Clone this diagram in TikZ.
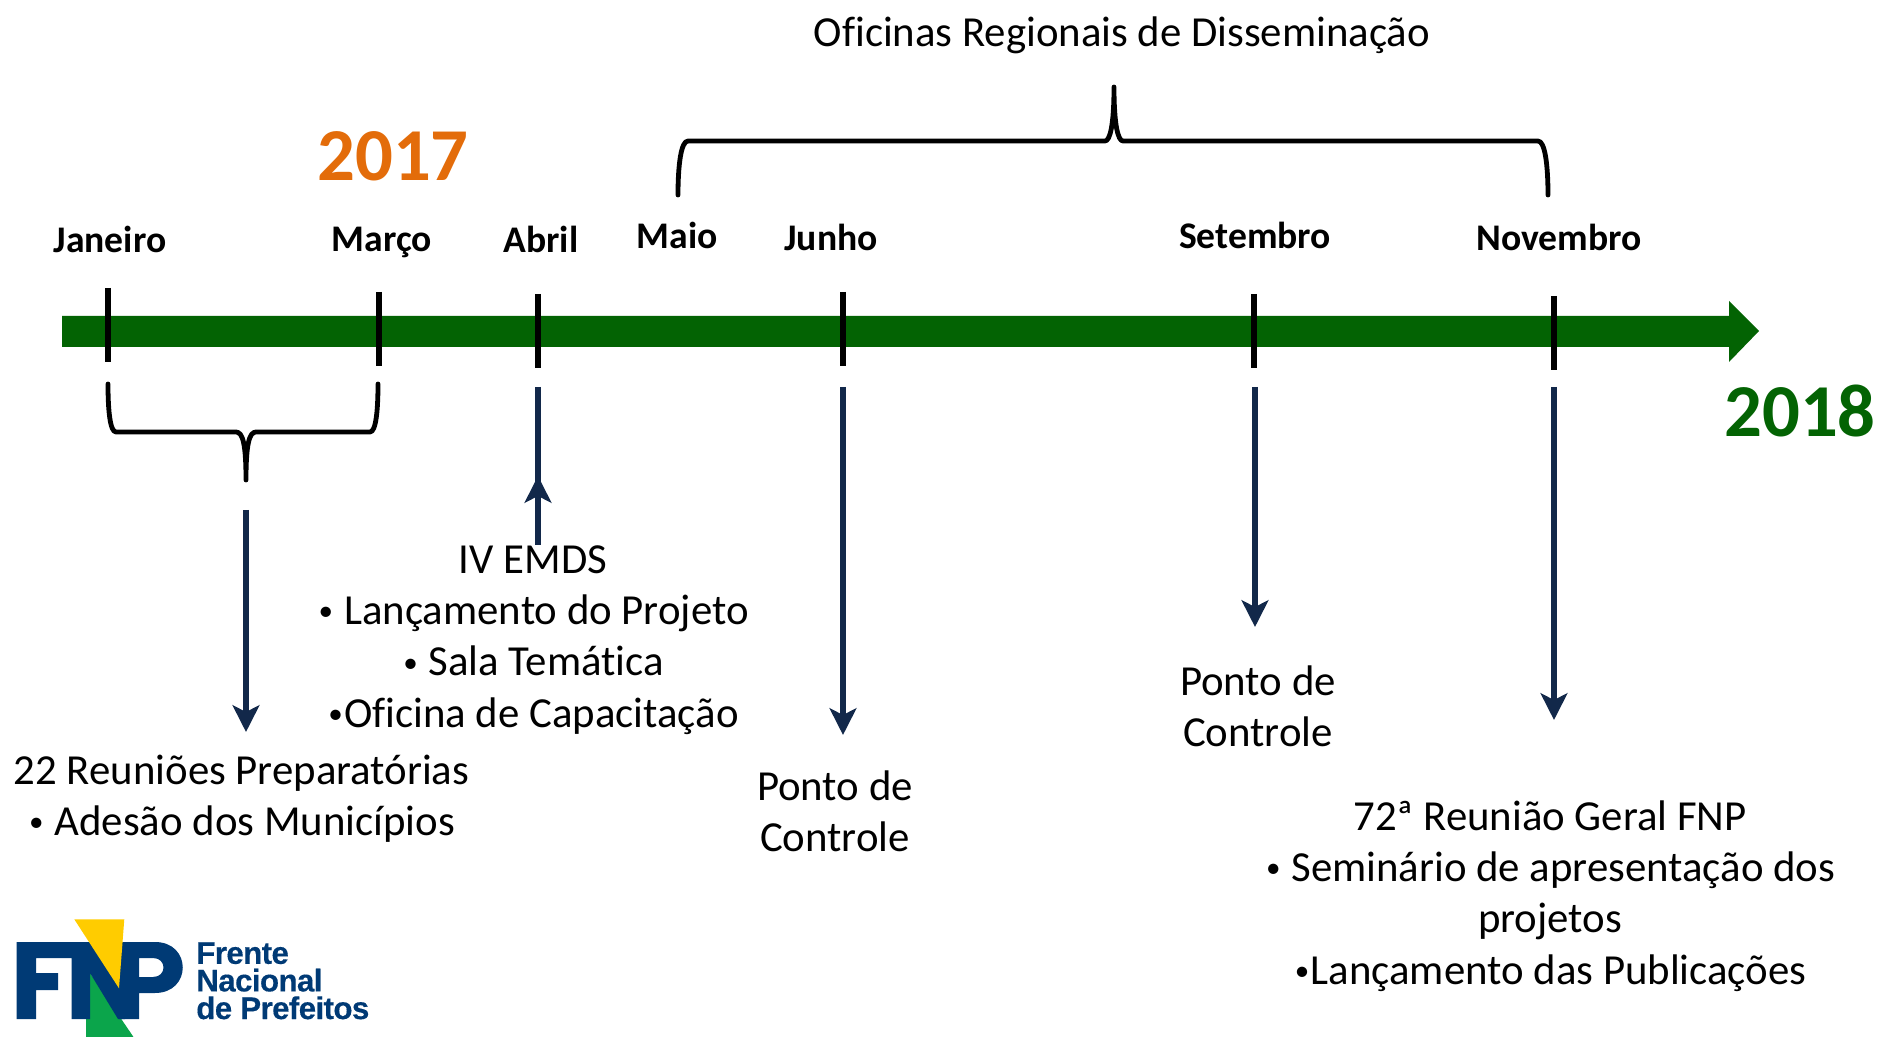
\documentclass[tikz,border=0pt]{standalone}
\usepackage{fontspec}
\setmainfont{Carlito}[Ligatures=NoCommon]
\newfontfamily\logofont{Liberation Sans}[UprightFont=* Bold,FakeBold=0.3,LetterSpace=-2]
\usetikzlibrary{arrows.meta}
\definecolor{fgreen}{HTML}{036303}
\definecolor{forange}{HTML}{E36C0A}
\definecolor{fnavy}{HTML}{12284A}
\definecolor{logoblue}{HTML}{003A75}
\definecolor{logoyellow}{HTML}{FFCC00}
\definecolor{logogreen}{HTML}{0BA54B}
\newcommand\bul{\makebox[.40em]{\raisebox{.09em}{\scalebox{.68}{•}}}}
\tikzset{
  x=0.75pt,y=-0.75pt,
  body/.style={font=\fontsize{32.1}{38.4}\selectfont,align=center,inner sep=0pt,text=black},
  month/.style={font=\fontsize{28.2}{32}\selectfont\bfseries,inner sep=0pt,text=black},
  tick/.style={line width=4.2pt,black},
  brace/.style={line width=3.6pt,black,line cap=round,line join=round},
  pointer/.style={line width=4.1pt,fnavy,-{Stealth[length=20pt,width=20pt,inset=5pt]}},
  pointerplain/.style={line width=4.1pt,fnavy},
  yearlabel/.style={font=\fontsize{56}{60}\selectfont\bfseries,inner sep=0pt},
  logotext/.style={font=\logofont\fontsize{23.5}{20.7}\selectfont,text=logoblue,align=left,inner sep=0pt,anchor=north west},
}
\begin{document}
\begin{tikzpicture}
\useasboundingbox (0,0) rectangle (1879,1037);
% timeline
\fill[fgreen] (62,316) -- (1729,316) -- (1729,301) -- (1759,331) -- (1729,362) -- (1729,347) -- (62,347) -- cycle;
% coordinates
\coordinate (jt) at (108,288); \coordinate (jb) at (108,362);
\coordinate (mt) at (379,292); \coordinate (mb) at (379,366);
\coordinate (at) at (538,294); \coordinate (ab) at (538,368);
\coordinate (ju1) at (843,292); \coordinate (ju2) at (843,366);
\coordinate (st) at (1254,294); \coordinate (sb) at (1254,368);
\coordinate (nt) at (1554,296); \coordinate (nb) at (1554,370);
\foreach \a/\b in {jt/jb,mt/mb,at/ab,ju1/ju2,st/sb,nt/nb}{\draw[tick] (\a) -- (\b);}
% braces
\draw[brace] (108,384) .. controls (108,410) and (110,432) .. (116,432) -- (236,432) .. controls (243,432) and (246,445) .. (246,480) .. controls (246,445) and (249,432) .. (256,432) -- (370,432) .. controls (376,432) and (378,410) .. (378,384);
\draw[brace] (678,195) .. controls (678,165) and (681,141) .. (688,141) -- (1105,141) .. controls (1110,141) and (1114,125) .. (1114,87) .. controls (1114,125) and (1118,141) .. (1123,141) -- (1538,141) .. controls (1545,141) and (1548,165) .. (1548,195);
% labels
\node[yearlabel,text=forange] (y17) at (393,156) {2017};
\node[yearlabel,text=fgreen] (y18) at (1800,411) {2018};
\node[body] (ofi) at (1122,35) {Oficinas Regionais de Disseminação};
\node[month] (n1) at (110,239) {Janeiro};
\node[month] (n2) at (382,242) {Março};
\node[month] (n3) at (541,239) {Abril};
\node[month] (n4) at (677,235) {Maio};
\node[month] (n5) at (831,237) {Junho};
\node[month] (n6) at (1255,235) {Setembro};
\node[month] (n7) at (1559,237) {Novembro};
% pointers
\coordinate (p1) at (246,510); \coordinate (p1e) at (246,732);
\coordinate (p2) at (538,387); \coordinate (p2m) at (538,476);
\coordinate (p2c) at (538,495);
\coordinate (p2s) at (538,545);
\coordinate (p3) at (843,387); \coordinate (p3e) at (843,735);
\coordinate (p4) at (1255,387); \coordinate (p4e) at (1255,627);
\coordinate (p5) at (1554,387); \coordinate (p5e) at (1554,720);
\draw[pointer] (p1) -- (p1e);
\draw[pointerplain] (p2) -- (p2c);
\draw[pointer] (p2s) -- (p2m);
\draw[pointer] (p3) -- (p3e);
\draw[pointer] (p4) -- (p4e);
\draw[pointer] (p5) -- (p5e);
% texts
\node[body] (t1) at (241.5,798.5) {22 Reuniões Preparatórias\\\bul\ Adesão dos Municípios};
\node[body] (t2) at (533,640) {IV EMDS\\\bul\ Lançamento do Projeto\\\bul\ Sala Temática\\\bul Oficina de Capacitação};
\node[body] (t3) at (835,811) {Ponto de\\Controle};
\node[body] (t4) at (1258,706) {Ponto de\\Controle};
\node[body] (t5) at (1550,896) {72ª Reunião Geral FNP\\\bul\ Seminário de apresentação dos\\projetos\\\bul Lançamento das Publicações};
% logo
\fill[logogreen] (90,973) -- (133.5,1037) -- (86,1037) -- (86,1019) -- (90,1019) -- cycle;
\fill[logoblue] (16.7,942) -- (125,942) -- (125,1019) -- (118,1019) -- (90,973) -- (90,1019) -- (71.7,1019) -- (71.7,958) -- (36,958) -- (36,973) -- (58,973) -- (58,990) -- (36,990) -- (36,1019) -- (16.7,1019) -- cycle;
\fill[logoblue,even odd rule] (119,942) -- (155,942) .. controls (192,942) and (192,993) .. (155,993) -- (139,993) -- (139,1019) -- (119,1019) -- cycle
 (139,958) -- (139,977) -- (153,977) .. controls (167,977) and (167,958) .. (153,958) -- cycle;
\fill[logoyellow] (74.3,919.3) -- (124.3,919.3) -- (119,988.3) -- cycle;
\node[logotext] (lg) at (196,942) {Frente\\Nacional\\de Prefeitos};
\end{tikzpicture}
\end{document}
